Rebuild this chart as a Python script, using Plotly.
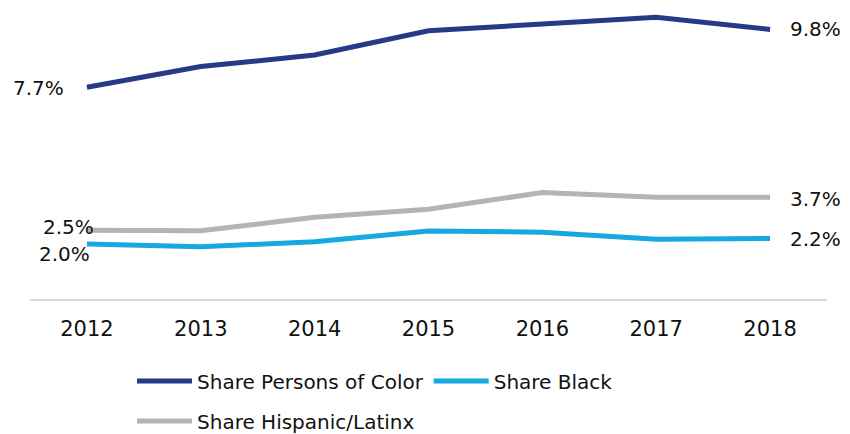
import plotly.graph_objects as go

years = ["2012", "2013", "2014", "2015", "2016", "2017", "2018"]
share_poc = [7.7, 8.45, 8.87, 9.75, 10.0, 10.24, 9.8]
share_black = [2.0, 1.9, 2.08, 2.47, 2.43, 2.17, 2.2]
share_hispanic = [2.5, 2.48, 2.97, 3.26, 3.87, 3.7, 3.7]

navy = "#263A87"
blue = "#16A8E0"
grey = "#B4B4B4"
font_family = "DejaVu Sans"

fig = go.Figure()

fig.add_trace(go.Scatter(x=years, y=share_poc, mode="lines", name="Share Persons of Color",
                         line=dict(color=navy, width=5), legend="legend"))
fig.add_trace(go.Scatter(x=years, y=share_black, mode="lines", name="Share Black",
                         line=dict(color=blue, width=5), legend="legend"))
fig.add_trace(go.Scatter(x=years, y=share_hispanic, mode="lines", name="Share Hispanic/Latinx",
                         line=dict(color=grey, width=5), legend="legend2"))

# end labels: (series, left xshift, left yshift, right yshift)
label_specs = [
    (share_poc, -21, -1, 0),
    (share_hispanic, 9, 3, -2),
    (share_black, 5, -10, -1),
]
last = len(years) - 1
for vals, lx, ly, ry in label_specs:
    fig.add_annotation(x=0, y=vals[0], text=f"{vals[0]:.1f}%", showarrow=False,
                       xanchor="right", xshift=lx, yshift=ly,
                       font=dict(family=font_family, size=20, color="#111111"))
    fig.add_annotation(x=last, y=vals[-1], text=f"{vals[-1]:.1f}%", showarrow=False,
                       xanchor="left", xshift=18, yshift=ry,
                       font=dict(family=font_family, size=20, color="#111111"))

fig.update_xaxes(type="category", range=[-0.5, 6.5], showgrid=False, zeroline=False,
                 showline=True, linecolor="#D9D9D9", linewidth=2, ticks="",
                 ticklabelstandoff=10,
                 tickfont=dict(family=font_family, size=21, color="#111111"))
fig.update_yaxes(range=[0, 10.58], visible=False, showgrid=False, zeroline=False)

legend_common = dict(orientation="h", xref="container", yref="container",
                     xanchor="left", yanchor="middle", itemwidth=55,
                     font=dict(family=font_family, size=20, color="#111111"),
                     bgcolor="rgba(0,0,0,0)", itemclick=False)

fig.update_layout(
    width=850, height=434,
    margin=dict(l=22, r=31, t=0, b=143, autoexpand=False),
    plot_bgcolor="white", paper_bgcolor="white",
    font=dict(family=font_family),
    legend=dict(x=0.1459, y=0.1406, **legend_common),
    legend2=dict(x=0.1459, y=0.0484, **legend_common),
)

fig.write_html("out.html")
